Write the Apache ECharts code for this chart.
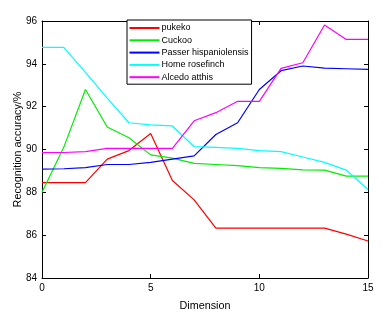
<!DOCTYPE html>
<html><head><meta charset="utf-8">
<script src="https://cdn.jsdelivr.net/npm/echarts@6/dist/echarts.min.js"></script>
<style>html,body{margin:0;padding:0;background:#fff}#c{width:391px;height:318px}</style>
</head><body><div id="c"></div>
<script>
const dims = [0,1,2,3,4,5,6,7,8,9,10,11,12,13,14,15];
const seriesNames = ["pukeko","Cuckoo","Passer hispaniolensis","Home rosefinch","Alcedo atthis"];
const pukeko = [88.45,88.45,88.45,89.55,89.95,90.75,88.55,87.65,86.33,86.33,86.33,86.33,86.33,86.33,86.05,85.73];
const cuckoo = [88.0,90.1,92.8,91.05,90.55,89.75,89.6,89.35,89.3,89.25,89.15,89.12,89.05,89.04,88.76,88.76];
const passer = [89.08,89.1,89.15,89.3,89.3,89.4,89.55,89.7,90.7,91.25,92.8,93.68,93.9,93.8,93.77,93.74];
const rosefinch = [94.77,94.77,93.6,92.4,91.25,91.15,91.1,90.13,90.1,90.05,89.95,89.9,89.65,89.4,89.04,88.13];
const alcedo = [89.86,89.86,89.9,90.05,90.05,90.05,90.05,91.34,91.72,92.25,92.25,93.79,94.05,95.81,95.14,95.14];
const colors = ["#ff0000","#00ee00","#0000ff","#00ffff","#ff00ff"];
const allData = [pukeko,cuckoo,passer,rosefinch,alcedo];

const font = "Liberation Sans, Arial, sans-serif";
const chart = echarts.init(document.getElementById('c'));
const axisCommon = {
  axisLine:{show:true,onZero:false,lineStyle:{color:'#000',width:1}},
  axisTick:{show:true,inside:true,length:4,lineStyle:{color:'#000'}},
  splitLine:{show:false}
};
chart.setOption({
  animation:false,
  grid:{left:42,right:23,top:21,bottom:40,containLabel:false,outerBoundsMode:'none'},
  legend:{
    orient:'vertical', left:127, top:20,
    itemWidth:30, itemHeight:2, itemGap:2.3,
    icon:'rect',
    padding:[3,3,2,2.5],
    borderColor:'#000', borderWidth:1,
    backgroundColor:'#fff',
    textStyle:{fontFamily:font,fontSize:9,lineHeight:10,color:'#000',padding:[0,0,0,-3]},
    data:seriesNames
  },
  xAxis:[
    Object.assign({type:'value',min:0,max:15,interval:5,position:'bottom',
      name:'Dimension',nameLocation:'middle',nameGap:23,
      nameTextStyle:{fontFamily:font,fontSize:10.8,color:'#000'},
      axisLabel:{fontFamily:font,fontSize:10,color:'#000',margin:5}},axisCommon),
    Object.assign({type:'value',min:0,max:15,interval:5,position:'top',
      axisLabel:{show:false}},axisCommon)
  ],
  yAxis:[
    Object.assign({type:'value',min:84,max:96,interval:2,position:'left',
      name:'Recognition accuracy/%',nameLocation:'middle',nameGap:18,nameMoveOverlap:false,
      nameTextStyle:{fontFamily:font,fontSize:10.8,color:'#000'},
      axisLabel:{fontFamily:font,fontSize:10,color:'#000',margin:5}},axisCommon),
    Object.assign({type:'value',min:84,max:96,interval:2,position:'right',
      axisLabel:{show:false}},axisCommon)
  ],
  series: seriesNames.map((n,i)=>({
    name:n, type:'line', xAxisIndex:0, yAxisIndex:0,
    data: dims.map((d,j)=>[d,allData[i][j]]),
    symbol:'none', color:colors[i],
    lineStyle:{width:1.2,color:colors[i]}
  }))
});
</script></body></html>
